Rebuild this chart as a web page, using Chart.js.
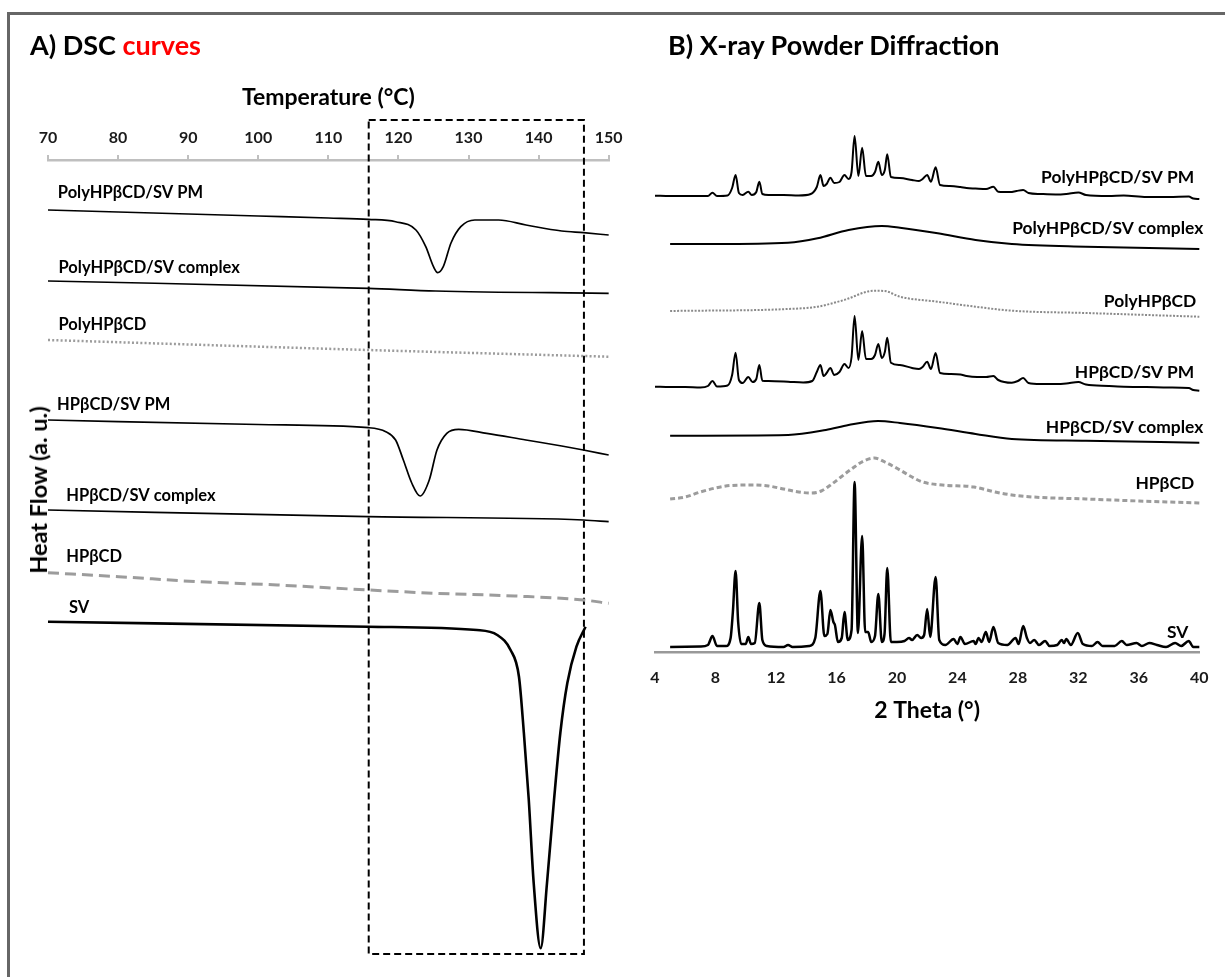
<!DOCTYPE html>
<html><head><meta charset="utf-8">
<script src="https://cdn.jsdelivr.net/npm/chart.js@4.4.0/dist/chart.umd.min.js"></script>
<style>
html,body{margin:0;padding:0;background:#fff;width:1225px;height:977px;overflow:hidden;font-family:Lato,"Open Sans",sans-serif;}
#frame{position:absolute;left:7px;top:12px;width:1400px;height:1200px;border-left:3px solid #666;border-top:3px solid #666;}
.t{position:absolute;font-weight:bold;white-space:nowrap;color:#000;}
#cA{position:absolute;left:0;top:0;width:630px;height:977px;}
#cB{position:absolute;left:620px;top:0;width:605px;height:977px;}
#ytitle{left:38px;top:490px;font-size:23.5px;line-height:28px;transform:translate(-50%,-50%) rotate(-90deg);}
</style></head><body>
<div id="frame"></div>
<canvas id="cA" width="630" height="977"></canvas>
<canvas id="cB" width="605" height="977"></canvas>
<div class="t" style="left:30px;top:29px;font-size:27px;line-height:32px;">A) DSC <span style="color:#f00">curves</span></div>
<div class="t" style="left:668px;top:29px;font-size:27px;line-height:32px;">B) X-ray Powder Diffraction</div>
<div class="t" id="ytitle">Heat Flow (a. u.)</div>
<script>
// ---------------- DSC data (temperature °C, heat flow a.u., curves stacked) ----------------
const dscTicks = [70, 80, 90, 100, 110, 120, 130, 140, 150];
const dscPolyPM_T  = [70, 80, 90, 100, 110, 115.7, 119.6, 122.5, 123.9, 125, 125.6, 126.4, 127.5, 128.9, 130.9, 134.3, 138.2, 143.3, 146.4, 150];
const dscPolyPM_HF = [750, 748, 746, 744, 742, 740.7, 738.3, 730, 713.3, 693.3, 687.3, 693.3, 717, 733.3, 740, 740, 735, 729, 727.3, 725];
const dscPolyCx_T  = [70, 115.7, 125.3, 150];
const dscPolyCx_HF = [679, 671.7, 669, 666.7];
const dscPolyHP_T  = [70, 115.7, 150];
const dscPolyHP_HF = [620, 610, 603.3];
const dscHPPM_T  = [70, 100, 115.7, 118.2, 119.6, 120.7, 121.9, 123.1, 124.4, 125.5, 126.9, 128.6, 132.6, 138.2, 143.3, 146.4, 150];
const dscHPPM_HF = [540, 535.5, 532.3, 528.3, 520, 500, 477, 464, 480, 510, 526.7, 530.7, 526.7, 520, 514, 510, 505];
const dscHPCx_T  = [70, 115.7, 146.4, 150];
const dscHPCx_HF = [450, 443.3, 440, 438.3];
const dscHP_T  = [70, 80.1, 91.4, 102.7, 115.7, 125.3, 136.6, 146.4, 150];
const dscHP_HF = [387.3, 383.3, 378.3, 375, 370, 366.7, 364, 360, 356.7];
const dscSV_T  = [70, 115.7, 131.2, 134.1, 136, 137.2, 137.9, 138.6, 139.3, 140.3, 141.2, 142.2, 143.1, 144.1, 145.4, 146.7];
const dscSV_HF = [338.3, 333.3, 330, 325, 310, 283.3, 227, 160, 77, 11.7, 77, 160, 227, 277, 313.3, 333.3];
const zoomBox_T  = [115.76, 146.47, 146.47, 115.76, 115.76];
const zoomBox_HF = [840, 840, 6, 6, 840];
const dscNames = ["PolyHPβCD/SV PM", "PolyHPβCD/SV complex", "PolyHPβCD", "HPβCD/SV PM", "HPβCD/SV complex", "HPβCD", "SV"];

// ---------------- XRD data (2θ °, intensity a.u., patterns stacked) ----------------
const xrdTicks = [4, 8, 12, 16, 20, 24, 28, 32, 36, 40];
const xrdPolyPM_2T = [4, 5, 6, 7, 7.5, 7.8, 8.1, 8.8, 9.1, 9.33, 9.55, 9.8, 10.17, 10.4, 10.7, 10.9, 11.1, 11.5, 12.5, 13.5, 14.3, 14.7, 14.94, 15.15, 15.35, 15.6, 15.85, 16.2, 16.53, 16.8, 17.0, 17.2, 17.45, 17.7, 17.95, 18.3, 18.55, 18.77, 19.0, 19.2, 19.36, 19.6, 20.2, 21.0, 21.46, 21.7, 22.0, 22.25, 22.56, 22.85, 23.5, 24.2, 24.6, 25.2, 25.9, 26.38, 26.7, 27.5, 27.9, 28.35, 28.7, 29.5, 30.5, 31.2, 32.0, 32.5, 34, 35, 36.5, 38, 39.3, 39.6, 40];
const xrdPolyPM_I  = [456.3, 456, 456, 456, 456, 459.3, 456, 456.5, 464, 477, 459, 457, 460.3, 457, 460, 470.3, 458, 457, 457, 456.5, 458, 465, 477, 466, 468, 474.3, 469, 470, 477, 473, 480, 516, 476, 504.3, 476, 476, 480, 490.3, 477, 482, 497.7, 475, 474, 472, 471, 473, 477, 470.3, 484.7, 467, 466, 465, 464, 463.5, 463, 465.3, 460.3, 460, 461, 462, 459, 458, 457.5, 458, 459.5, 457, 456, 456.5, 455, 455, 455.5, 453.5, 453];
const xrdPolyCx_2T = [5, 8, 12.8, 14.75, 16.8, 19, 20.2, 22.7, 25.2, 27.6, 32.5, 40];
const xrdPolyCx_I  = [408, 408, 409.3, 413.7, 422, 426, 424.3, 418.7, 412, 408, 405.3, 403];
const xrdPolyHP_2T = [5, 12.8, 14.75, 16.5, 18.5, 19.2, 20.2, 22.7, 25.2, 27.6, 32.5, 40];
const xrdPolyHP_I  = [341, 343, 345.3, 352, 361.3, 361, 355.3, 350.3, 345.3, 341.3, 339, 335.3];
const xrdHPPM_2T = [4, 5, 6, 7, 7.5, 7.8, 8.1, 8.8, 9.1, 9.33, 9.55, 9.8, 10.17, 10.45, 10.7, 10.9, 11.1, 11.5, 12.8, 13.8, 14.4, 14.7, 14.94, 15.15, 15.35, 15.6, 15.85, 16.2, 16.53, 16.8, 17.0, 17.2, 17.45, 17.7, 17.95, 18.3, 18.55, 18.77, 19.0, 19.2, 19.36, 19.6, 20.2, 21.0, 21.46, 21.7, 22.0, 22.25, 22.56, 22.85, 23.5, 24.2, 24.6, 25.3, 25.9, 26.38, 26.7, 27.6, 28.0, 28.35, 28.7, 29.5, 30.5, 31.2, 32.0, 32.5, 34, 35, 36.5, 38, 39.3, 39.6, 40];
const xrdHPPM_I  = [265.3, 265, 265, 264.5, 266, 271, 265.5, 266.5, 277, 299.3, 272, 269, 275, 270, 273, 287, 271.3, 271, 270.3, 269.5, 271, 280, 287, 276, 279, 284, 277, 280, 288, 284, 295, 336, 292, 321, 293, 293, 297, 308, 294, 300, 314.3, 289.3, 287, 284, 283, 285, 290.3, 283, 299, 279, 278, 277.5, 276, 275, 275, 276, 272, 269.3, 271, 274, 269, 268, 268, 268.5, 270, 267.5, 266, 265.3, 265, 264.5, 264, 262, 261.3];
const xrdHPCx_2T = [5, 12.8, 15.3, 16.8, 18.75, 20.2, 22.7, 25.2, 27.6, 32.5, 40];
const xrdHPCx_I  = [216.3, 217, 222, 227, 231, 229, 224, 218, 213, 211.3, 209.3];
const xrdHP_2T = [5, 6, 7, 8, 9, 10.4, 11.5, 12.5, 13.5, 14.3, 15, 15.7, 16.3, 17, 17.8, 18.5, 19.2, 20.2, 21, 21.7, 23, 25.1, 26.5, 27.6, 29, 32.5, 36, 40];
const xrdHP_I  = [153, 155, 160, 164, 166.5, 167, 166, 163, 160, 159, 161, 168, 175, 183, 191, 194, 190, 182, 175, 170, 167, 165, 160, 157, 155, 153, 151, 149];
const xrdSV_2T = [5, 7, 7.5, 7.8, 8.1, 8.7, 9.0, 9.15, 9.33, 9.5, 9.7, 10.0, 10.17, 10.35, 10.6, 10.9, 11.1, 11.4, 12.5, 12.8, 13.1, 14.2, 14.6, 14.94, 15.2, 15.4, 15.6, 15.8, 15.9, 16.1, 16.35, 16.53, 16.75, 17.0, 17.2, 17.42, 17.7, 17.9, 18.1, 18.3, 18.55, 18.77, 19.0, 19.18, 19.36, 19.6, 20.0, 20.5, 20.8, 21.0, 21.34, 21.6, 21.8, 22.0, 22.2, 22.56, 22.8, 23.2, 23.75, 24.0, 24.2, 24.5, 25.07, 25.2, 25.4, 25.6, 25.88, 26.1, 26.38, 26.7, 27.3, 27.85, 28.05, 28.35, 28.6, 28.8, 29.08, 29.4, 29.8, 30.1, 30.6, 30.9, 31.05, 31.2, 31.5, 31.96, 32.3, 32.9, 33.27, 33.6, 34.4, 34.87, 35.2, 35.85, 36.2, 36.7, 37.2, 37.8, 38.4, 38.8, 39.3, 39.6, 40];
const xrdSV_I  = [5, 5.5, 7, 16, 6, 6, 14, 40, 81, 30, 8, 8, 15, 8, 9, 49, 12, 6, 5, 7, 5, 6, 14, 61, 16, 18, 42, 30, 27, 10, 14, 40, 12, 22, 170, 19, 116, 20, 20, 10, 16, 58, 10, 18, 84, 10, 10, 11, 14, 12, 17, 14, 17, 43, 15, 75, 12, 7, 13, 8, 15, 8, 11, 8, 14, 10, 20, 10, 25, 9, 7, 14, 8, 26, 14, 9, 12, 7, 11, 6, 7, 12, 9, 13, 7, 19, 8, 6, 10, 6, 6, 11, 7, 9, 6, 9, 7, 5, 9, 6, 11, 5, 5];
const xrdNames = ["PolyHPβCD/SV PM", "PolyHPβCD/SV complex", "PolyHPβCD", "HPβCD/SV PM", "HPβCD/SV complex", "HPβCD", "SV"];

// ---------------- helpers ----------------
const FONT = 'Lato, "Open Sans", sans-serif';
const pts = (xs, ys) => xs.map((v, i) => ({x: v, y: ys[i]}));
const curveLabels = {
  id: 'curveLabels',
  afterDatasetsDraw(chart, args, opts) {
    const {ctx, scales: {x, y}} = chart;
    ctx.save();
    ctx.font = opts.font;
    ctx.fillStyle = '#000';
    ctx.textBaseline = 'middle';
    ctx.textAlign = opts.align;
    opts.items.forEach(it => ctx.fillText(it.text, x.getPixelForValue(it.x), y.getPixelForValue(it.y)));
    ctx.restore();
  }
};
Chart.register(curveLabels);

const line = (data, o) => Object.assign({data, borderColor: '#000', borderWidth: 1.7, pointRadius: 0, fill: false, clip: false, tension: 0, cubicInterpolationMode: 'monotone'}, o);
const GRAY = '#9c9c9c';

// ---------------- DSC chart ----------------
const dscLabelPos = [[71.4, 767], [71.5, 692], [71.5, 635], [71.3, 555], [72.6, 464], [72.6, 403], [73, 352]];
new Chart(document.getElementById('cA'), {
  type: 'line',
  data: {datasets: [
    line(pts(dscPolyPM_T, dscPolyPM_HF)),
    line(pts(dscPolyCx_T, dscPolyCx_HF)),
    line(pts(dscPolyHP_T, dscPolyHP_HF), {borderColor: GRAY, borderWidth: 2.5, borderDash: [2, 2.2]}),
    line(pts(dscHPPM_T, dscHPPM_HF)),
    line(pts(dscHPCx_T, dscHPCx_HF)),
    line(pts(dscHP_T, dscHP_HF), {borderColor: GRAY, borderWidth: 3, borderDash: [11, 6]}),
    line(pts(dscSV_T, dscSV_HF), {borderWidth: 2.6}),
    line(pts(zoomBox_T, zoomBox_HF), {borderWidth: 2, borderDash: [7, 4], cubicInterpolationMode: 'default'})
  ]},
  options: {
    responsive: false, animation: false, events: [],
    layout: {padding: {left: 48, right: 13, top: 80, bottom: 17}},
    plugins: {legend: {display: false}, tooltip: {enabled: false},
      curveLabels: {font: 'bold 16.5px ' + FONT, align: 'left',
        items: dscNames.map((n, i) => ({text: n, x: dscLabelPos[i][0], y: dscLabelPos[i][1]}))}},
    scales: {
      x: {type: 'linear', position: 'top', min: 70, max: 150,
        afterBuildTicks: s => { s.ticks = dscTicks.map(v => ({value: v})); },
        afterFit: s => { s.height = 80; },
        ticks: {padding: 7.4, color: '#1a1a1a', font: {family: FONT, weight: 'bold', size: 16}},
        grid: {drawOnChartArea: false, drawTicks: true, tickLength: 5, color: '#bfbfbf', lineWidth: 2},
        border: {color: '#bfbfbf', width: 2.5},
        title: {display: true, text: 'Temperature (°C)', color: '#000', padding: {top: 4.2, bottom: 0}, font: {family: FONT, weight: 'bold', size: 23}}
      },
      y: {type: 'linear', display: false, min: 0, max: 800}
    }
  }
});

// ---------------- XRD chart ----------------
const xrdLabelPos = [[39.66, 475], [40.26, 424], [39.8, 351], [39.66, 280], [40.26, 225], [39.66, 169], [39.27, 20]];
new Chart(document.getElementById('cB'), {
  type: 'line',
  data: {datasets: [
    line(pts(xrdPolyPM_2T, xrdPolyPM_I), {borderWidth: 2}),
    line(pts(xrdPolyCx_2T, xrdPolyCx_I), {borderWidth: 2}),
    line(pts(xrdPolyHP_2T, xrdPolyHP_I), {borderColor: '#8a8a8a', borderWidth: 2, borderDash: [2, 1.5]}),
    line(pts(xrdHPPM_2T, xrdHPPM_I), {borderWidth: 2}),
    line(pts(xrdHPCx_2T, xrdHPCx_I), {borderWidth: 2}),
    line(pts(xrdHP_2T, xrdHP_I), {borderColor: GRAY, borderWidth: 3, borderDash: [5, 3]}),
    line(pts(xrdSV_2T, xrdSV_I), {borderWidth: 2.5})
  ]},
  options: {
    responsive: false, animation: false, events: [],
    layout: {padding: {left: 35, right: 24, top: 92, bottom: 245}},
    plugins: {legend: {display: false}, tooltip: {enabled: false},
      curveLabels: {font: 'bold 17.4px ' + FONT, align: 'right',
        items: xrdNames.map((n, i) => ({text: n, x: xrdLabelPos[i][0], y: xrdLabelPos[i][1]}))}},
    scales: {
      x: {type: 'linear', position: 'bottom', min: 4, max: 40,
        afterBuildTicks: s => { s.ticks = xrdTicks.map(v => ({value: v})); },
        afterFit: s => { s.height = 80; },
        ticks: {padding: 16.4, color: '#1a1a1a', font: {family: FONT, weight: 'bold', size: 16}},
        grid: {drawOnChartArea: false, drawTicks: false, color: '#999', lineWidth: 2},
        border: {color: '#999', width: 2.5},
        title: {display: true, text: '2 Theta (°)', color: '#000', padding: {top: 0, bottom: 7.2}, font: {family: FONT, weight: 'bold', size: 23}}
      },
      y: {type: 'linear', display: false, min: 0, max: 560}
    }
  }
});
</script>
</body></html>
